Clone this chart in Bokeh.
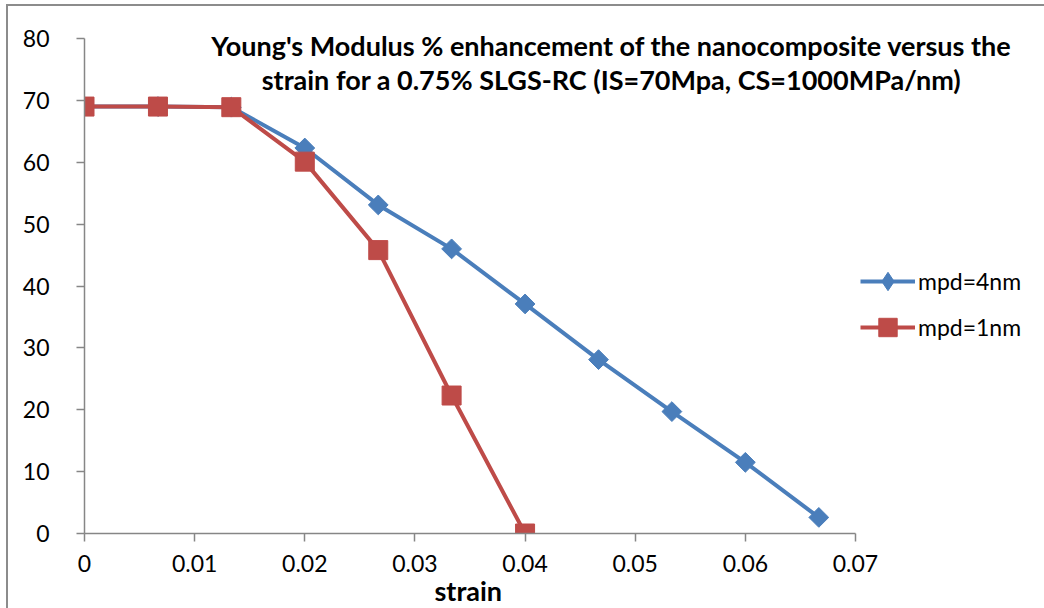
from bokeh.plotting import figure
from bokeh.models import Range1d, Legend, LegendItem, Label, FixedTicker, Title
from bokeh.embed import file_html
from bokeh.resources import INLINE

strain = [0, 0.00667, 0.01333, 0.02, 0.02667, 0.03333, 0.04, 0.04667, 0.05333, 0.06, 0.06667]
mpd4 = [69.0, 69.0, 68.9, 62.3, 53.1, 46.0, 37.1, 28.1, 19.7, 11.5, 2.6]
strain_1 = [0, 0.00667, 0.01333, 0.02, 0.02667, 0.03333, 0.04]
mpd1 = [69.0, 69.0, 68.9, 60.1, 45.8, 22.3, 0.0]
x_ticks = [0, 0.01, 0.02, 0.03, 0.04, 0.05, 0.06, 0.07]
y_ticks = [0, 10, 20, 30, 40, 50, 60, 70, 80]
title_lines = ["Young's Modulus % enhancement of the nanocomposite versus the",
               "strain for a 0.75% SLGS-RC (IS=70Mpa, CS=1000MPa/nm)"]
x_title = "strain"

BLUE = "#4a7ebb"
RED = "#be4b48"
AX = "#868686"
FONT = "Lato"

# pixel scale of the reference: x 0..0.07 over 771 px, y 0..80 over 495 px
PX_X = 0.07 / 771
PX_Y = 80 / 495

p = figure(width=1038, height=604, output_backend="svg", toolbar_location=None,
           margin=(4, 0, 0, 6),
           styles={"border-left": "2px solid #8c8c8c", "border-top": "2px solid #8c8c8c"})
p.min_border_left = 76
p.min_border_right = 0
p.min_border_top = 0
p.min_border_bottom = 77
# frame: page x 82..1044, page y 4..531 ; x=0 at 82, y=0 at 531
p.x_range = Range1d(0, 962 * PX_X)
p.y_range = Range1d(0, 527 * PX_Y)
p.outline_line_color = None
p.xgrid.visible = False
p.ygrid.visible = False

for ax in (p.xaxis[0], p.yaxis[0]):
    ax.axis_line_color = AX
    ax.axis_line_width = 1.5
    ax.major_tick_line_color = AX
    ax.major_tick_line_width = 1.5
    ax.minor_tick_line_color = None
    ax.major_tick_in = 0
    ax.major_tick_out = 8
    ax.major_label_text_font = FONT
    ax.major_label_text_font_size = "23px"
    ax.major_label_text_color = "#000000"

p.xaxis.bounds = (0, 0.07)
p.yaxis.bounds = (0, 80)
p.xaxis.ticker = FixedTicker(ticks=x_ticks)
p.yaxis.ticker = FixedTicker(ticks=y_ticks)
p.xaxis.major_label_overrides = {t: ("0" if t == 0 else f"{t:.2f}") for t in x_ticks}
p.xaxis.major_label_standoff = 13
p.yaxis.major_label_standoff = 27

# axis title centred under the axis span (0..0.07), not under the whole frame
p.add_layout(Title(text=x_title, align="left", offset=350, standoff=-5,
                   text_font=FONT, text_font_style="bold", text_font_size="27px",
                   text_color="#000000"), "below")

l4 = p.line(strain, mpd4, line_color=BLUE, line_width=4)
s4 = p.scatter(strain, mpd4, marker="square", angle=0.785398, size=14,
               fill_color=BLUE, line_color=BLUE)
l1 = p.line(strain_1, mpd1, line_color=RED, line_width=4)
s1 = p.scatter(strain_1, mpd1, marker="square", size=19,
               fill_color=RED, line_color=RED)
# legend-only diamond key (the legend does not rotate markers); hidden in the plot
s4_key = p.scatter(strain, mpd4, marker="diamond", size=14,
                   fill_color=BLUE, line_color=BLUE, visible=False)

legend = Legend(items=[LegendItem(label="mpd=4nm", renderers=[l4, s4_key]),
                       LegendItem(label="mpd=1nm", renderers=[l1, s1])],
                location=(776, 183), orientation="vertical")
legend.glyph_width = 55
legend.glyph_height = 46
legend.label_height = 20
legend.spacing = 0
legend.padding = 0
legend.margin = 0
legend.label_standoff = 3
legend.label_text_font = FONT
legend.label_text_font_size = "23px"
legend.label_text_color = "#000000"
legend.border_line_color = None
legend.background_fill_alpha = 0
legend.click_policy = "none"
p.add_layout(legend, "center")

for txt, yv in zip(title_lines, [78.9, 73.3]):
    p.add_layout(Label(x=0.04785, y=yv, text=txt, text_align="center",
                       text_baseline="middle", text_font=FONT,
                       text_font_style="bold", text_font_size="27px",
                       text_color="#000000"))

open("out.html", "w").write(file_html(p, INLINE))
